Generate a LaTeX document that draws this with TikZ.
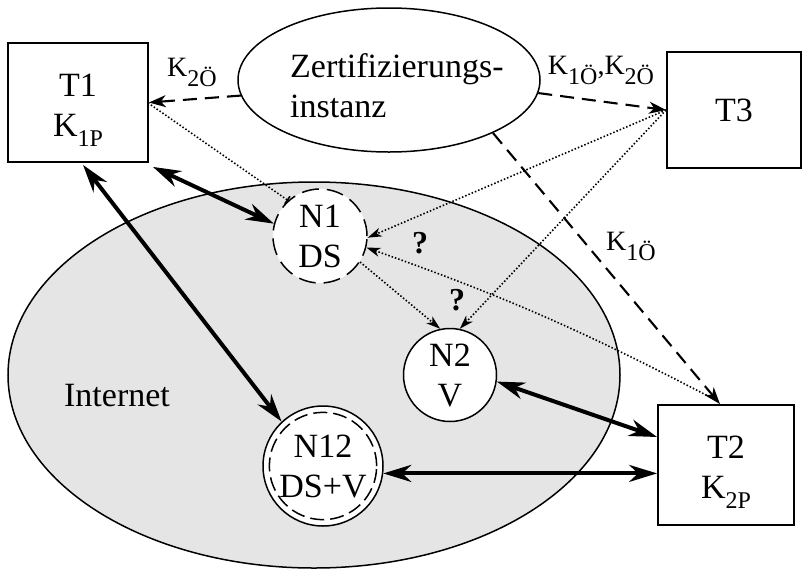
\documentclass[tikz,border=0pt]{standalone}
\usepackage{fontspec}
\setmainfont{Liberation Serif}
\usetikzlibrary{arrows.meta,shapes.geometric}
\definecolor{netgray}{RGB}{229,229,229}
% lowered, smaller index for key names such as K_{1P}
\newcommand\ksub[1]{\raisebox{-10pt}{\fontsize{24}{24}\selectfont #1}}

\begin{document}
\begin{tikzpicture}[x=1pt,y=-1pt,
  bigfont/.style={font=\fontsize{34}{40}\selectfont},
  keyfont/.style={font=\fontsize{28}{32}\selectfont},
  termbox/.style={draw,line width=1.8pt,fill=white,inner sep=0pt,align=center,bigfont},
  knot/.style={circle,draw,line width=1.5pt,fill=white,inner sep=0pt,align=center,bigfont},
  dashedarrow/.style={line width=2.1pt,dash pattern=on 14pt off 8pt,
    -{Stealth[length=17pt,width=12pt,inset=5pt]}},
  dottedarrow/.style={line width=1.6pt,dash pattern=on 1.5pt off 2pt,
    -{Stealth[length=14pt,width=9pt,inset=4pt]}},
  thickarrow/.style={line width=4pt,
    {Stealth[length=28pt,width=17pt,inset=9pt]}-{Stealth[length=28pt,width=17pt,inset=9pt]}},
]
\useasboundingbox (0,0) rectangle (803,571);

% the network
\node[ellipse,draw,line width=1.5pt,fill=netgray,inner sep=0pt,
      minimum width=612pt,minimum height=386pt] (internet) at (314,375) {};
\node[bigfont] (nettext) at (117,396) {Internet};

% certification authority
\node[ellipse,draw,line width=1.5pt,fill=white,inner sep=0pt,
      minimum width=302pt,minimum height=144pt] (ca) at (389,80) {};
\node[bigfont,align=left,anchor=west,inner sep=0pt] (catext) at (290,86)
  {Zertifizierungs-\\instanz};

% terminals
\node[termbox,minimum width=140pt,minimum height=119pt] (t1) at (78,102.5)
  {\rule{0pt}{38pt}T1\\K\ksub{1P}};
\node[termbox,minimum width=134pt,minimum height=116pt] (t3) at (734,110) {T3};
\node[termbox,minimum width=136pt,minimum height=120pt] (t2) at (726,465)
  {\rule{0pt}{36pt}T2\\K\ksub{2P}};

% network nodes
\node[knot,dash pattern=on 17pt off 8pt,minimum size=94pt] (n1) at (320,236) {N1\\DS};
\node[knot,minimum size=93pt] (n2) at (450,375) {N2\\V};
\node[knot,minimum size=120pt] (n12) at (323,466) {};
\node[circle,draw,line width=1.5pt,dash pattern=on 14pt off 6pt,inner sep=0pt,
      minimum size=102pt,align=center,bigfont] (n12in) at (n12) {N12\\DS+V};

% distribution of the public keys
\draw[dashedarrow] (ca.186) -- (t1.east);
\draw[dashedarrow] (ca.-5) -- (t3.west);
\draw[dashedarrow] (ca.-27) -- ([xshift=-6pt]t2.north);

\node[keyfont] (k2o) at (192,72) {K\ksub{2Ö}};
\node[keyfont] (k12o) at (601,70) {K\ksub{1Ö},K\ksub{2Ö}};
\node[keyfont] (k1o) at (631,246) {K\ksub{1Ö}};

% queries of the terminals
\draw[dottedarrow] (t3.west) -- (n1.-2);
\draw[dottedarrow] (t3.west) -- (n2.78);
\draw[dottedarrow] (n1.-33) -- (n2.102);
\draw[dottedarrow,{Bar[width=9pt]}-] (n1.132) -- ([yshift=-1pt]t1.east);
\draw[dottedarrow,{Stealth[length=14pt,width=9pt,inset=4pt]}-] (n1.-14)
  to[bend left=4] ([xshift=-14pt,yshift=6pt]t2.north);

\node[font=\bfseries\fontsize{32}{36}\selectfont] (q1) at (420,243) {?};
\node[font=\bfseries\fontsize{32}{36}\selectfont] (q2) at (457,300) {?};

% connections over the network
\draw[thickarrow] ([shift={(4,4)}]t1.south east) -- (n1.165);
\draw[thickarrow] ([shift={(5,2)}]t1.south) -- (n12.133);
\draw[thickarrow] (n2.-8) -- ([yshift=28pt]t2.west);
\draw[thickarrow] (n12.-7) -- (n12.-7 -| t2.west);
\end{tikzpicture}
\end{document}
